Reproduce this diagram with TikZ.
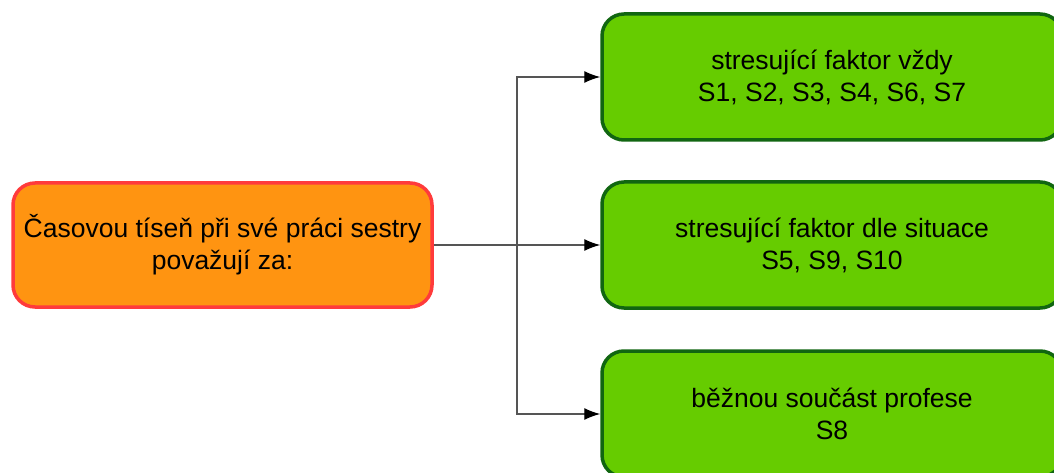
\documentclass[tikz,border=0pt]{standalone}
\usepackage{fontspec}
\setmainfont{Liberation Sans}
\usetikzlibrary{arrows.meta}
\definecolor{boxorange}{HTML}{FF9411}
\definecolor{boxred}{HTML}{FF3B3B}
\definecolor{boxgreen}{HTML}{66CC00}
\definecolor{boxdarkgreen}{HTML}{116611}
\definecolor{linegray}{HTML}{555555}
\begin{document}
\begin{tikzpicture}
        [x=1pt,y=-1pt,
         node_style/.style={rectangle,rounded corners=22pt,draw=boxdarkgreen,fill=boxgreen,line width=3.5pt,
                            minimum width=460pt,minimum height=126pt,align=center,font=\fontsize{26.5}{32}\selectfont},
         node_style_root/.style={rectangle,rounded corners=22pt,draw=boxred,fill=boxorange,line width=3.5pt,
                            minimum width=419pt,minimum height=124pt,align=center,font=\fontsize{26.5}{32}\selectfont},
         edge_style/.style={draw=linegray,line width=1.3pt},
         arrow_style/.style={draw=linegray,line width=1.3pt,-{Latex[length=16pt,width=12pt,black]}}]
            \useasboundingbox (0,0) rectangle (1054,473);
            \node[node_style_root] (v0) at (222.5, 245)  {Časovou tíseň při své práci sestry\\považují za:};
            \node[node_style] (v1) at (832, 77)  {stresující faktor vždy\\S1, S2, S3, S4, S6, S7};
            \node[node_style] (v2) at (832, 245)  {stresující faktor dle situace\\S5, S9, S10};
            \node[node_style] (v3) at (832, 414)  {běžnou součást profese\\S8};
            \coordinate (split) at (517, 245);
            \draw[edge_style]  (v0) -- (split);
            \draw[arrow_style]  (split) |- (v1);
            \draw[arrow_style]  (split) -- (v2);
            \draw[arrow_style]  (split) |- (v3);
        \end{tikzpicture}
\end{document}
